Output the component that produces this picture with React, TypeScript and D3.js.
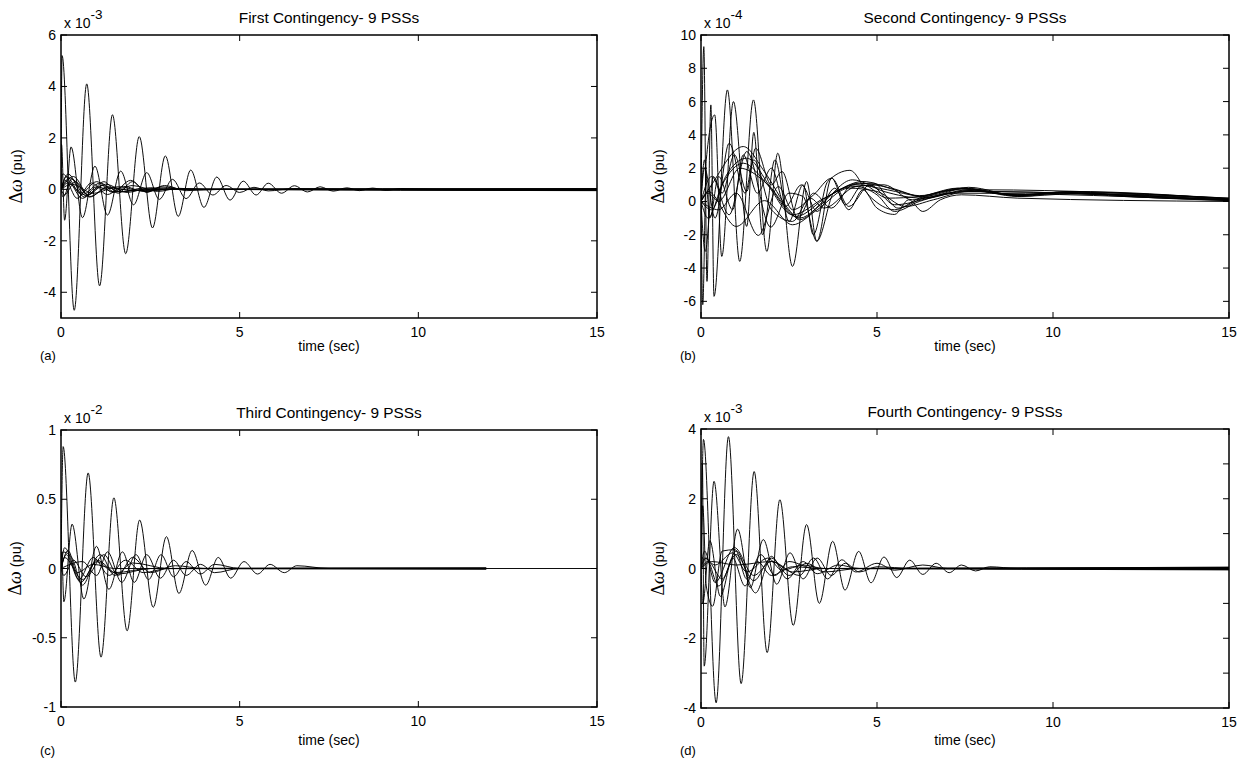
import React from 'react';
import * as d3 from 'd3';

type Pt = [number, number];

// ---------- shared axis data ----------
const X_DOMAIN: [number, number] = [0, 15];
const X_TICKS = [0, 5, 10, 15];
const X_LABEL = 'time (sec)';

// ---------- Panel (a): First Contingency, values x 10^-3 ----------
const A_TITLE = 'First Contingency- 9 PSSs';
const A_EXP = '-3';
const A_DOMAIN: [number, number] = [-5, 6];
const A_TICKS = [-4, -2, 0, 2, 4, 6];
const A_LABELS = [-4, -2, 0, 2, 4, 6];
const a1: Pt[] = [[0, 0], [0.03, 5.2], [0.37, -4.7], [0.72, 4.1], [1.08, -3.75], [1.44, 2.9], [1.81, -2.5], [2.19, 2.05], [2.56, -1.5], [2.92, 1.3], [3.28, -1.05], [3.63, 0.75], [4.0, -0.7], [4.36, 0.48], [4.73, -0.42], [5.1, 0.32], [5.46, -0.22], [5.8, 0.24], [6.17, -0.15], [6.53, 0.14], [6.9, -0.1], [7.25, 0.1], [7.62, -0.07], [8.0, 0.06], [8.35, -0.05], [8.72, 0.05], [9.1, -0.04], [9.5, 0.03], [10.5, 0], [15, -0.02]];
const a2: Pt[] = [[0, 0], [0.015, 1.75], [0.1, -1.2], [0.28, 1.65], [0.6, -1.1], [0.95, 0.9], [1.3, -1.0], [1.67, 0.71], [2.03, -0.6], [2.4, 0.65], [2.75, -0.39], [3.12, 0.39], [3.5, -0.36], [3.87, 0.25], [4.25, -0.22], [4.62, 0.15], [5.0, -0.12], [5.4, 0.08], [5.8, -0.06], [6.5, 0.03], [8, 0], [15, -0.03]];
const a3: Pt[] = [[0, 0], [0.2, 0.6], [0.65, -0.3], [1.15, 0.15], [1.7, -0.1], [2.3, 0.05], [3.2, 0], [15, 0.01]];
const a4: Pt[] = [[0, 0], [0.25, 0.45], [0.7, -0.25], [1.25, 0.2], [1.85, -0.12], [2.5, 0.06], [4, 0], [15, -0.04]];
const a5: Pt[] = [[0, 0], [0.12, 0.35], [0.45, -0.35], [0.85, 0.25], [1.3, -0.2], [1.75, 0.12], [2.3, -0.08], [3, 0], [15, 0.02]];
const a6: Pt[] = [[0, 0], [0.06, -0.3], [0.3, 0.4], [0.75, -0.2], [1.2, 0.3], [1.6, -0.15], [2.0, 0.3], [2.4, -0.12], [2.8, 0.1], [3.5, 0], [15, -0.01]];
const a7: Pt[] = [[0, 0], [0.3, 0.2], [0.9, -0.15], [1.6, 0.1], [2.3, -0.06], [3, 0], [15, 0.03]];
const a8: Pt[] = [[0, 0], [0.15, 0.5], [0.55, -0.15], [1.0, 0.3], [1.45, -0.12], [1.95, 0.35], [2.4, -0.1], [2.9, 0.15], [3.5, -0.05], [4.5, 0], [15, -0.02]];
const a9: Pt[] = [[0, 0], [0.1, -0.2], [0.4, 0.3], [0.8, -0.3], [1.3, 0.1], [2, -0.05], [3, 0], [15, 0]];
const a10: Pt[] = [[0, 0], [0.2, 0.25], [0.6, -0.2], [1.1, 0.25], [1.5, -0.1], [2.0, 0.15], [2.7, -0.08], [3.3, 0.04], [4, 0], [15, -0.05]];
const a11: Pt[] = [[0, 0], [0.05, 0.6], [0.25, 0.3], [0.6, -0.35], [1.0, 0.1], [1.5, -0.1], [2.5, 0], [15, 0.01]];
const a12: Pt[] = [[0, 0], [0.35, 0.5], [0.8, -0.28], [1.3, 0.05], [2, -0.03], [3, 0], [15, -0.01]];
const A_CURVES = [a1, a2, a3, a4, a5, a6, a7, a8, a9, a10, a11, a12];

// ---------- Panel (b): Second Contingency, values x 10^-4 ----------
const B_TITLE = 'Second Contingency- 9 PSSs';
const B_EXP = '-4';
const B_DOMAIN: [number, number] = [-7, 10];
const B_TICKS = [-6, -4, -2, 0, 2, 4, 6, 8, 10];
const B_LABELS = [-6, -4, -2, 0, 2, 4, 6, 8, 10];
const b1: Pt[] = [[0, 0], [0.08, 9.3], [0.17, -4.8], [0.28, 5.8], [0.37, -5.7], [0.75, 6.7], [1.1, -3.6], [1.49, 6.1], [1.87, -3.0], [2.18, 2.9], [2.6, -3.9], [3.0, 1.2], [3.29, -2.4], [3.71, 1.4], [4.1, -0.2], [4.6, 1.0], [5.3, 0.2], [6.2, 0.3], [7.3, 0.8], [9, 0.35], [10.3, 0.5], [12, 0.3], [15, 0.1]];
const b2: Pt[] = [[0, 0], [0.05, -6.2], [0.15, 2.5], [0.39, 5.2], [0.59, -3.3], [0.92, 6.0], [1.3, -1.5], [1.5, 4.15], [1.75, -2.0], [2.1, 2.5], [2.5, -1.2], [2.9, 1.0], [3.19, -2.0], [3.6, 1.2], [4.23, 1.87], [4.8, 0.3], [5.5, -0.5], [6.2, 0.2], [7.3, 0.7], [9, 0.4], [10.5, 0.55], [15, 0.15]];
const b3: Pt[] = [[0, 0], [0.2, -1.0], [0.6, 1.0], [1.2, 2.3], [1.9, 1.0], [2.7, -0.9], [3.6, 0.3], [4.5, 1.1], [5.4, 0.8], [6.3, 0.3], [7.5, 0.8], [9, 0.35], [10.3, 0.55], [12, 0.35], [15, 0.1]];
const b4: Pt[] = [[0, 0], [0.3, -0.5], [0.7, 1.5], [1.3, 2.6], [2.0, 0.8], [2.8, -1.0], [3.7, 0.4], [4.6, 1.2], [5.5, 0.7], [6.4, 0.25], [7.6, 0.85], [9.1, 0.3], [10.4, 0.6], [12.2, 0.3], [15, 0.05]];
const b5: Pt[] = [[0, 0], [0.2, 0.5], [0.5, 0], [1.1, 2.0], [1.8, 1.2], [2.6, -0.8], [3.5, 0.2], [4.4, 1.0], [5.3, 0.7], [6.2, 0.35], [7.4, 0.75], [8.9, 0.4], [10.2, 0.5], [15, 0.2]];
const b6: Pt[] = [[0, 0], [0.3, 1.0], [1.2, 3.3], [1.8, 1.8], [2.5, -0.5], [2.8, -1.1], [3.4, -0.2], [4.3, 1.3], [5.2, 0.6], [6.3, 0.2], [7.6, 0.7], [9, 0.3], [10.5, 0.45], [15, 0.15]];
const b7: Pt[] = [[0, 0], [0.2, 0.6], [1.0, -1.5], [1.8, 0.05], [2.6, -1.4], [3.3, -0.5], [4.2, 0.8], [5.0, 0.6], [5.8, -0.3], [6.6, 0.1], [7.6, 0.6], [15, 0.1]];
const b8: Pt[] = [[0, 0], [0.5, -0.5], [1.0, 0.5], [1.63, -2.04], [2.2, 0.9], [2.6, -0.5], [3.2, 0.4], [3.71, 1.4], [4.2, -0.3], [4.8, 1.0], [5.5, -0.2], [6.5, 0.2], [7.5, 0.6], [15, 0.1]];
const b9: Pt[] = [[0, 0], [0.3, 1.5], [0.8, -0.8], [1.3, 3.0], [1.98, -1.54], [2.5, 0.5], [2.9, 0.3], [3.29, -2.38], [3.8, 0.6], [4.4, 0.9], [5.0, 0.4], [5.5, -0.6], [6.2, 0.0], [7.3, 0.5], [15, 0.05]];
const b10: Pt[] = [[0, 0], [0.1, 2.5], [0.25, -1.0], [0.5, 1.5], [0.9, -0.5], [1.2, 2.8], [1.6, 0.5], [2.0, 2.0], [2.4, -0.3], [2.85, 1.0], [3.3, -0.6], [3.8, 0.8], [4.2, -0.5], [4.6, 0.7], [5.0, -0.4], [5.5, -0.78], [5.9, 0.1], [6.3, -0.6], [6.8, 0.1], [7.4, 0.4], [9, 0.2], [15, 0.0]];
const b11: Pt[] = [[0, 0], [0.12, -3.0], [0.35, 1.5], [0.6, 0.5], [0.95, 2.8], [1.3, 0.6], [1.55, 3.2], [2.0, 1.0], [2.3, 1.8], [2.75, -1.0], [3.2, 0.5], [3.7, -0.4], [4.3, 1.0], [4.9, 1.1], [5.6, -0.4], [6.3, 0.2], [7.4, 0.8], [9, 0.4], [10.5, 0.6], [15, 0.15]];
const b12: Pt[] = [[0, 0], [0.1, 2.0], [0.4, -1.0], [0.8, 3.5], [1.25, 0.5], [1.5, 2.5], [2.0, -0.5], [2.6, -1.2], [3.1, 0.2], [3.5, -0.4], [4.4, 0.9], [5.2, 1.0], [6.0, 0.1], [7.0, 0.5], [8, 0.7], [15, 0.2]];
const B_CURVES = [b1, b2, b3, b4, b5, b6, b7, b8, b9, b10, b11, b12];

// ---------- Panel (c): Third Contingency, values x 10^-2 ----------
const C_TITLE = 'Third Contingency- 9 PSSs';
const C_EXP = '-2';
const C_DOMAIN: [number, number] = [-1, 1];
const C_TICKS = [-1, -0.5, 0, 0.5, 1];
const C_LABELS = [-1, -0.5, 0, 0.5, 1];
const c1: Pt[] = [[0, 0], [0.06, 0.88], [0.4, -0.82], [0.76, 0.69], [1.12, -0.64], [1.48, 0.51], [1.85, -0.45], [2.2, 0.35], [2.58, -0.28], [2.95, 0.23], [3.3, -0.18], [3.67, 0.13], [4.05, -0.12], [4.4, 0.08], [4.75, -0.07], [5.12, 0.05], [5.5, -0.04], [5.85, 0.03], [6.25, -0.03], [6.6, 0.02], [7.5, 0], [15, 0]];
const c2: Pt[] = [[0, 0], [0.02, 0.12], [0.08, -0.24], [0.31, 0.32], [0.64, -0.22], [0.99, 0.16], [1.34, -0.15], [1.72, 0.12], [2.05, -0.1], [2.4, 0.1], [2.78, -0.07], [3.15, 0.06], [3.5, -0.05], [3.9, 0.03], [4.3, -0.03], [5, 0], [11.9, 0]];
const c3: Pt[] = [[0, 0], [0.1, 0.15], [0.55, -0.1], [1.0, 0.05], [1.5, -0.03], [2.5, 0], [11.9, 0.005]];
const c4: Pt[] = [[0, 0], [0.05, 0.12], [0.3, 0.08], [0.6, -0.12], [1.0, 0.06], [1.6, -0.04], [2.5, 0], [11.9, -0.005]];
const c5: Pt[] = [[0, 0], [0.15, 0.1], [0.5, -0.08], [0.9, 0.08], [1.35, -0.05], [1.8, 0.06], [2.3, -0.03], [3, 0], [11.9, 0.003]];
const c6: Pt[] = [[0, 0], [0.08, -0.05], [0.35, 0.06], [0.7, -0.06], [1.2, 0.1], [1.6, -0.05], [2.0, 0.08], [2.5, -0.03], [3.2, 0.02], [4, 0], [11.9, 0]];
const c7: Pt[] = [[0, 0], [0.2, 0.13], [0.45, -0.03], [0.9, 0.03], [1.5, 0], [11.9, -0.003]];
const c8: Pt[] = [[0, 0], [0.1, 0.08], [0.6, -0.08], [1.1, 0.1], [1.5, -0.05], [2.0, 0.04], [3, 0], [11.9, 0]];
const c9: Pt[] = [[0, 0], [0.6, 0.05], [1.0, -0.05], [1.3, 0.12], [1.7, -0.1], [2.1, 0.1], [2.45, -0.08], [2.8, 0.1], [3.15, -0.06], [3.5, 0.05], [3.9, -0.04], [4.3, 0.03], [5, 0], [11.9, 0]];
const C_CURVES = [c1, c2, c3, c4, c5, c6, c7, c8, c9];

// ---------- Panel (d): Fourth Contingency, values x 10^-3 ----------
const D_TITLE = 'Fourth Contingency- 9 PSSs';
const D_EXP = '-3';
const D_DOMAIN: [number, number] = [-4, 4];
const D_TICKS = [-4, -3, -2, -1, 0, 1, 2, 3, 4];
const D_LABELS = [-4, -2, 0, 2, 4];
const dc1: Pt[] = [[0, 0], [0.07, 3.7], [0.43, -3.85], [0.78, 3.78], [1.14, -3.3], [1.51, 2.78], [1.88, -2.41], [2.24, 1.97], [2.62, -1.63], [3.0, 1.26], [3.36, -1.0], [3.74, 0.78], [4.09, -0.62], [4.48, 0.49], [4.83, -0.41], [5.2, 0.33], [5.56, -0.26], [5.93, 0.24], [6.3, -0.17], [6.68, 0.15], [7.05, -0.12], [7.4, 0.1], [7.8, -0.07], [8.2, 0.05], [9, 0], [15, 0]];
const dc2: Pt[] = [[0, 0], [0.04, 3.0], [0.09, -2.8], [0.37, 2.5], [0.68, -1.1], [1.04, 1.13], [1.4, -0.55], [1.77, 0.83], [2.15, -0.45], [2.53, 0.45], [2.9, -0.3], [3.3, 0.3], [3.7, -0.2], [4.1, 0.15], [4.5, -0.1], [5, 0.05], [6, 0], [15, 0.03]];
const dc3: Pt[] = [[0, 0], [0.05, 1.8], [0.15, -0.5], [0.33, -1.08], [0.6, 0.5], [0.97, 0.54], [1.3, -0.3], [1.7, 0.4], [2.1, -0.2], [2.5, 0.2], [3.2, 0], [15, -0.03]];
const dc4: Pt[] = [[0, 0], [0.1, 0.5], [0.4, -0.4], [0.95, 0.6], [1.5, -0.2], [2, 0.2], [2.6, -0.1], [3.5, 0], [15, 0.02]];
const dc5: Pt[] = [[0, 0], [0.15, 0.3], [0.5, -0.5], [1.0, 0.4], [1.5, -0.35], [2.0, 0.3], [2.5, -0.2], [3.0, 0.15], [3.5, -0.1], [4.5, 0], [15, -0.02]];
const dc6: Pt[] = [[0, 0], [0.2, 0.2], [0.6, -0.3], [1.0, 0.5], [1.55, -0.7], [2.0, 0.35], [2.45, -0.3], [2.9, 0.2], [3.3, -0.15], [3.9, 0.1], [4.5, 0], [15, 0.01]];
const dc7: Pt[] = [[0, 0], [0.1, 0.3], [0.4, 0.1], [0.9, 0.45], [1.3, -0.1], [1.9, 0.3], [2.3, -0.05], [2.9, 0.1], [3.5, 0], [15, -0.01]];
const dc8: Pt[] = [[0, 0], [0.05, -1.0], [0.25, 0.8], [0.55, -0.8], [0.9, 0.3], [1.25, -0.5], [1.6, 0.2], [2.0, -0.2], [2.6, 0.05], [3.5, 0], [15, 0.04]];
const dc9: Pt[] = [[0, 0], [0.3, 0.2], [1, 0.1], [2, 0.2], [2.8, -0.2], [3.2, 0.3], [3.6, -0.3], [4.0, 0.25], [4.4, -0.1], [5, 0.15], [5.5, -0.05], [6.3, 0.1], [7, 0], [15, -0.04]];
const D_CURVES = [dc1, dc2, dc3, dc4, dc5, dc6, dc7, dc8, dc9];

// ---------- layout ----------
interface PanelCfg {
  box: { x0: number; x1: number; y0: number; y1: number };
  domain: [number, number];
  ticks: number[];
  labels: number[];
  title: string;
  exp: string;
  letter: string;
  curves: Pt[][];
  ylabelX: number;
  xlabDy: number;
  letterDy: number;
}

const PANELS: PanelCfg[] = [
  { box: { x0: 61, x1: 597, y0: 35, y1: 318 }, domain: A_DOMAIN, ticks: A_TICKS, labels: A_LABELS, title: A_TITLE, exp: A_EXP, letter: '(a)', curves: A_CURVES, ylabelX: 22, xlabDy: 33, letterDy: 42 },
  { box: { x0: 701, x1: 1229, y0: 35, y1: 318 }, domain: B_DOMAIN, ticks: B_TICKS, labels: B_LABELS, title: B_TITLE, exp: B_EXP, letter: '(b)', curves: B_CURVES, ylabelX: 664, xlabDy: 33, letterDy: 42 },
  { box: { x0: 61, x1: 597, y0: 430, y1: 707 }, domain: C_DOMAIN, ticks: C_TICKS, labels: C_LABELS, title: C_TITLE, exp: C_EXP, letter: '(c)', curves: C_CURVES, ylabelX: 21, xlabDy: 38, letterDy: 48 },
  { box: { x0: 701, x1: 1229, y0: 429, y1: 708 }, domain: D_DOMAIN, ticks: D_TICKS, labels: D_LABELS, title: D_TITLE, exp: D_EXP, letter: '(d)', curves: D_CURVES, ylabelX: 664, xlabDy: 37, letterDy: 47 },
];

const FONT = "'Liberation Sans', Arial, Helvetica, sans-serif";
const TICK = 6;

function Panel({ cfg, idx }: { cfg: PanelCfg; idx: number }) {
  const { x0, x1, y0, y1 } = cfg.box;
  const xs = d3.scaleLinear().domain(X_DOMAIN).range([x0, x1]);
  const ys = d3.scaleLinear().domain(cfg.domain).range([y1, y0]);
  const line = d3
    .line<Pt>()
    .x((d) => xs(d[0]))
    .y((d) => ys(d[1]))
    .curve(d3.curveMonotoneX);
  const clipId = `clip${idx}`;
  const cx = (x0 + x1) / 2;
  const cy = (y0 + y1) / 2;
  return (
    <g>
      <defs>
        <clipPath id={clipId}>
          <rect x={x0} y={y0} width={x1 - x0} height={y1 - y0} />
        </clipPath>
      </defs>
      <g clipPath={`url(#${clipId})`}>
        {cfg.curves.map((c, i) => (
          <path key={i} d={line(c) || ''} fill="none" stroke="#000" strokeWidth={0.95} strokeLinejoin="round" />
        ))}
      </g>
      {X_TICKS.map((t) => (
        <g key={'x' + t}>
          <line x1={xs(t)} x2={xs(t)} y1={y1} y2={y1 - TICK} stroke="#000" strokeWidth={1} />
          <line x1={xs(t)} x2={xs(t)} y1={y0} y2={y0 + TICK} stroke="#000" strokeWidth={1} />
          <text x={xs(t)} y={y1 + 19} textAnchor="middle" fontFamily={FONT} fontSize={14}>
            {t}
          </text>
        </g>
      ))}
      {cfg.ticks.map((t) => (
        <g key={'y' + t}>
          <line x1={x0} x2={x0 + TICK} y1={ys(t)} y2={ys(t)} stroke="#000" strokeWidth={1} />
          <line x1={x1} x2={x1 - TICK} y1={ys(t)} y2={ys(t)} stroke="#000" strokeWidth={1} />
        </g>
      ))}
      {cfg.labels.map((t) => (
        <text key={'yl' + t} x={x0 - 5} y={ys(t) + 5} textAnchor="end" fontFamily={FONT} fontSize={14}>
          {String(t)}
        </text>
      ))}
      <rect x={x0} y={y0} width={x1 - x0} height={y1 - y0} fill="none" stroke="#000" strokeWidth={1.5} />
      <text x={cx} y={y0 - 12} textAnchor="middle" fontFamily={FONT} fontSize={15.4}>
        {cfg.title}
      </text>
      <text x={x0 + 3} y={y0 - 7} fontFamily={FONT} fontSize={14}>
        x 10
        <tspan dy={-9} fontSize={13.5}>
          {cfg.exp}
        </tspan>
      </text>
      <text transform={`translate(${cfg.ylabelX},${cy}) rotate(-90)`} textAnchor="middle" fontFamily={FONT} fontSize={14.5}>
        <tspan fontFamily="'Liberation Serif', serif" fontSize={18}>Δ</tspan>
        <tspan fontFamily="'Liberation Serif', serif" fontStyle="italic" fontSize={18}>ω</tspan>
        <tspan> (pu)</tspan>
      </text>
      <text x={cx} y={y1 + cfg.xlabDy} textAnchor="middle" fontFamily={FONT} fontSize={14}>
        {X_LABEL}
      </text>
      <text x={x0 - 21} y={y1 + cfg.letterDy} fontFamily={FONT} fontSize={13}>
        {cfg.letter}
      </text>
    </g>
  );
}

export default function App() {
  return (
    <svg
      width={1245}
      height={764}
      viewBox="0 0 1245 764"
      style={{ position: 'absolute', left: 0, top: 0, background: '#fff' }}
    >
      <rect x={0} y={0} width={1245} height={764} fill="#fff" />
      {PANELS.map((p, i) => (
        <Panel key={i} cfg={p} idx={i} />
      ))}
    </svg>
  );
}
